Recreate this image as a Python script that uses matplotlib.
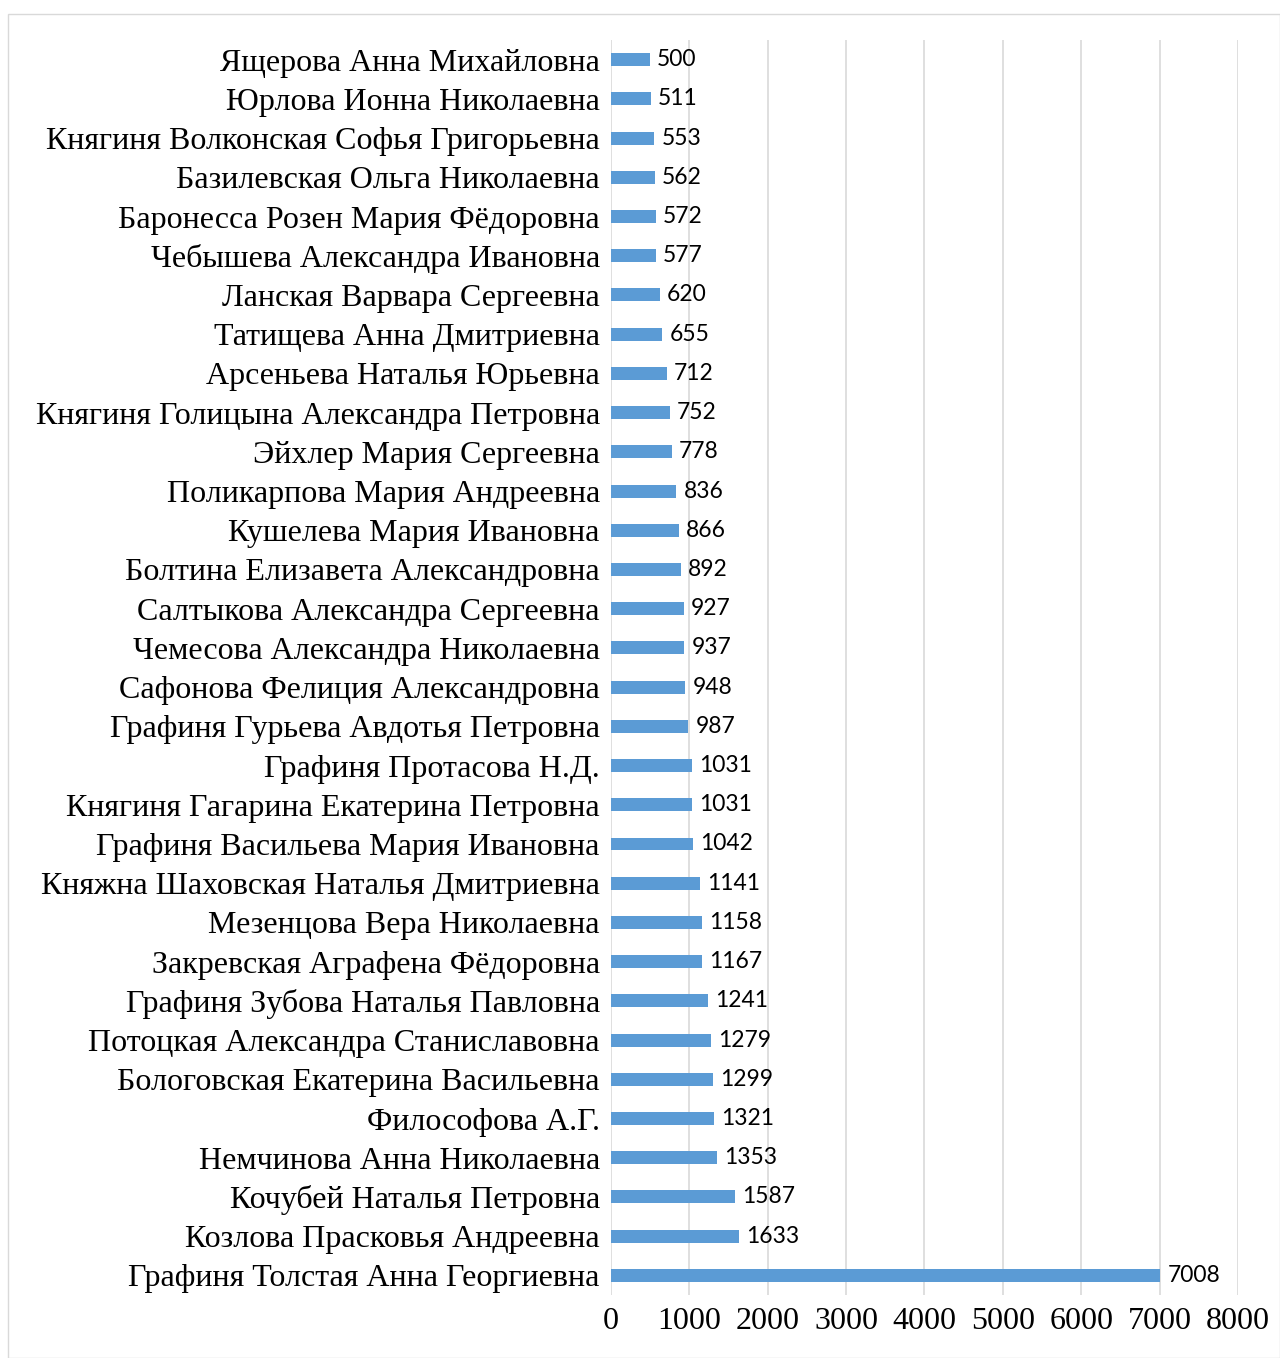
import numpy as np
import matplotlib.pyplot as plt

names = [
    "Ящерова Анна Михайловна",
    "Юрлова Ионна Николаевна",
    "Княгиня Волконская Софья Григорьевна",
    "Базилевская Ольга Николаевна",
    "Баронесса Розен Мария Фёдоровна",
    "Чебышева Александра Ивановна",
    "Ланская Варвара Сергеевна",
    "Татищева Анна Дмитриевна",
    "Арсеньева Наталья Юрьевна",
    "Княгиня Голицына Александра Петровна",
    "Эйхлер Мария Сергеевна",
    "Поликарпова Мария Андреевна",
    "Кушелева Мария Ивановна",
    "Болтина Елизавета Александровна",
    "Салтыкова Александра Сергеевна",
    "Чемесова Александра Николаевна",
    "Сафонова Фелиция Александровна",
    "Графиня Гурьева Авдотья Петровна",
    "Графиня Протасова Н.Д.",
    "Княгиня Гагарина Екатерина Петровна",
    "Графиня Васильева Мария Ивановна",
    "Княжна Шаховская Наталья Дмитриевна",
    "Мезенцова Вера Николаевна",
    "Закревская Аграфена Фёдоровна",
    "Графиня Зубова Наталья Павловна",
    "Потоцкая Александра Станиславовна",
    "Бологовская Екатерина Васильевна",
    "Философова А.Г.",
    "Немчинова Анна Николаевна",
    "Кочубей Наталья Петровна",
    "Козлова Прасковья Андреевна",
    "Графиня Толстая Анна Георгиевна",
]
values = [500, 511, 553, 562, 572, 577, 620, 655, 712, 752, 778, 836, 866, 892,
          927, 937, 948, 987, 1031, 1031, 1042, 1141, 1158, 1167, 1241, 1279,
          1299, 1321, 1353, 1587, 1633, 7008]
x_ticks = [0, 1000, 2000, 3000, 4000, 5000, 6000, 7000, 8000]

fig = plt.figure(figsize=(12.8, 13.58), dpi=100)
# рамка вокруг диаграммы
fig.patches.append(plt.Rectangle((0.006, 0.0), 0.994, 0.99, transform=fig.transFigure,
                                 fill=False, edgecolor='#D9D9D9', linewidth=1))
ax = fig.add_axes([0.4773, 0.0464, 0.4899, 0.9241])

y = np.arange(len(names))
ax.barh(y, values, height=0.33, color='#5B9BD5', zorder=3)
for yi, v in zip(y, values):
    ax.text(v + 90, yi, str(v), va='center', ha='left', fontsize=16.5,
            family='Lato', color='black')

ax.set_yticks(y)
ax.set_yticklabels(names, family='Liberation Serif', fontsize=23)
ax.set_ylim(len(names) - 0.5, -0.5)
ax.set_xlim(0, 8000)
ax.set_xticks(x_ticks)
ax.set_xticklabels([str(t) for t in x_ticks], family='Liberation Serif', fontsize=23)
ax.tick_params(axis='both', length=0)
ax.tick_params(axis='y', pad=8)
ax.tick_params(axis='x', pad=9)
ax.grid(axis='x', color='#D9D9D9', linewidth=1.2, zorder=0)
for s in ax.spines.values():
    s.set_visible(False)

fig.savefig('out.png', dpi=100)
